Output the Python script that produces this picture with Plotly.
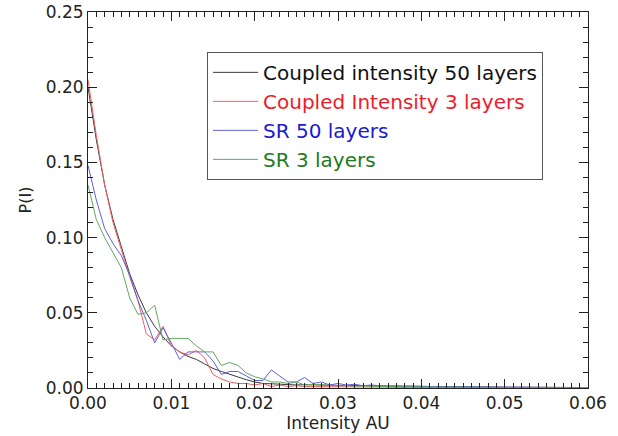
import plotly.graph_objects as go

x_vals = [i / 1000 for i in range(0, 61)]

coupled_50 = [0.200, 0.165, 0.135, 0.112, 0.094, 0.076, 0.062, 0.050, 0.041, 0.034,
              0.028, 0.024, 0.021, 0.019, 0.016, 0.013, 0.011, 0.009, 0.007, 0.0055,
              0.004, 0.003, 0.0028, 0.0025, 0.002, 0.002, 0.0022, 0.002, 0.0018, 0.002,
              0.0018, 0.0016, 0.0017, 0.0015, 0.0014, 0.0015, 0.0013, 0.0012, 0.0013, 0.0011,
              0.0011, 0.001, 0.001, 0.0009, 0.0009, 0.0008, 0.0008, 0.0008, 0.0007, 0.0007,
              0.0006, 0.0006, 0.0006, 0.0005, 0.0005, 0.0005, 0.0004, 0.0004, 0.0004, 0.0003, 0.0003]

coupled_3 = [0.205, 0.168, 0.135, 0.110, 0.092, 0.074, 0.058, 0.036, 0.032, 0.041,
             0.028, 0.024, 0.022, 0.025, 0.020, 0.009, 0.006, 0.004, 0.003, 0.003,
             0.002, 0.003, 0.001, 0.002, 0.001, 0.0015, 0.001, 0.001, 0.0008, 0.001,
             0.0008, 0.0007, 0.0008, 0.0006, 0.0006, 0.0005, 0.0006, 0.0004, 0.0005, 0.0004,
             0.0004, 0.0003, 0.0004, 0.0003, 0.0003, 0.0002, 0.0003, 0.0002, 0.0002, 0.0002,
             0.0002, 0.0001, 0.0002, 0.0001, 0.0001, 0.0001, 0.0001, 0.0001, 0.0001, 0.0001, 0.0001]

sr_50 = [0.148, 0.125, 0.106, 0.096, 0.088, 0.075, 0.058, 0.045, 0.030, 0.040,
         0.030, 0.019, 0.024, 0.024, 0.024, 0.018, 0.009, 0.011, 0.011, 0.008,
         0.005, 0.005, 0.012, 0.008, 0.004, 0.004, 0.007, 0.003, 0.004, 0.002,
         0.003, 0.002, 0.0025, 0.0015, 0.002, 0.0015, 0.0012, 0.0015, 0.001, 0.0012,
         0.001, 0.0009, 0.001, 0.0008, 0.0008, 0.0007, 0.0008, 0.0006, 0.0006, 0.0006,
         0.0005, 0.0005, 0.0005, 0.0004, 0.0004, 0.0004, 0.0003, 0.0003, 0.0003, 0.0003, 0.0002]

sr_3 = [0.135, 0.112, 0.100, 0.090, 0.080, 0.060, 0.049, 0.050, 0.055, 0.032,
        0.033, 0.033, 0.033, 0.028, 0.024, 0.024, 0.015, 0.017, 0.015, 0.010,
        0.0075, 0.006, 0.004, 0.004, 0.003, 0.004, 0.002, 0.0025, 0.002, 0.0018,
        0.0015, 0.0016, 0.0012, 0.0013, 0.001, 0.0011, 0.0009, 0.0009, 0.0008, 0.0008,
        0.0007, 0.0007, 0.0006, 0.0006, 0.0005, 0.0005, 0.0005, 0.0004, 0.0004, 0.0004,
        0.0003, 0.0003, 0.0003, 0.0003, 0.0002, 0.0002, 0.0002, 0.0002, 0.0002, 0.0002, 0.0002]

series_names = ["Coupled intensity 50 layers", "Coupled Intensity 3 layers",
                "SR 50 layers", "SR 3 layers"]
series_data = [coupled_50, coupled_3, sr_50, sr_3]
line_colors = ["#3a3a3a", "#f06060", "#6060e0", "#60a860"]
text_colors = ["#111111", "#ee1c2a", "#1a1ad0", "#1e7a1e"]

fig = go.Figure()
for name, ys, lc, tc in zip(series_names, series_data, line_colors, text_colors):
    fig.add_trace(go.Scatter(
        x=x_vals, y=ys, mode="lines",
        name=f'<span style="color:{tc}">{name}</span>',
        line=dict(color=lc, width=1),
    ))

axis_common = dict(
    showline=True, linecolor="#222", linewidth=1, mirror="allticks",
    ticks="inside", ticklen=9, tickcolor="#222", showgrid=False, zeroline=False,
    automargin=False,
    tickfont=dict(family="DejaVu Sans", size=17, color="#222"),
)

fig.update_xaxes(
    range=[0, 0.06], dtick=0.01, tickformat=".2f",
    minor=dict(ticks="inside", ticklen=5, dtick=0.001, tickcolor="#222"),
    title=dict(text="Intensity AU", font=dict(family="DejaVu Sans", size=17, color="#222"), standoff=2),
    **axis_common,
)
fig.update_yaxes(
    range=[0, 0.25], dtick=0.05, tickformat=".2f",
    minor=dict(ticks="inside", ticklen=5, dtick=0.01, tickcolor="#222"),
    title=dict(text="P(I)", font=dict(family="DejaVu Sans", size=16, color="#222"), standoff=10),
    **axis_common,
)

fig.update_layout(
    width=618, height=436,
    margin=dict(l=88, r=30, t=12, b=48),
    paper_bgcolor="white", plot_bgcolor="white",
    showlegend=True,
    legend=dict(
        x=0.238, y=0.894, xanchor="left", yanchor="top",
        bordercolor="#555", borderwidth=1, bgcolor="white",
        font=dict(family="DejaVu Sans", size=20),
        itemwidth=45,
    ),
)

fig.write_html("out.html")
